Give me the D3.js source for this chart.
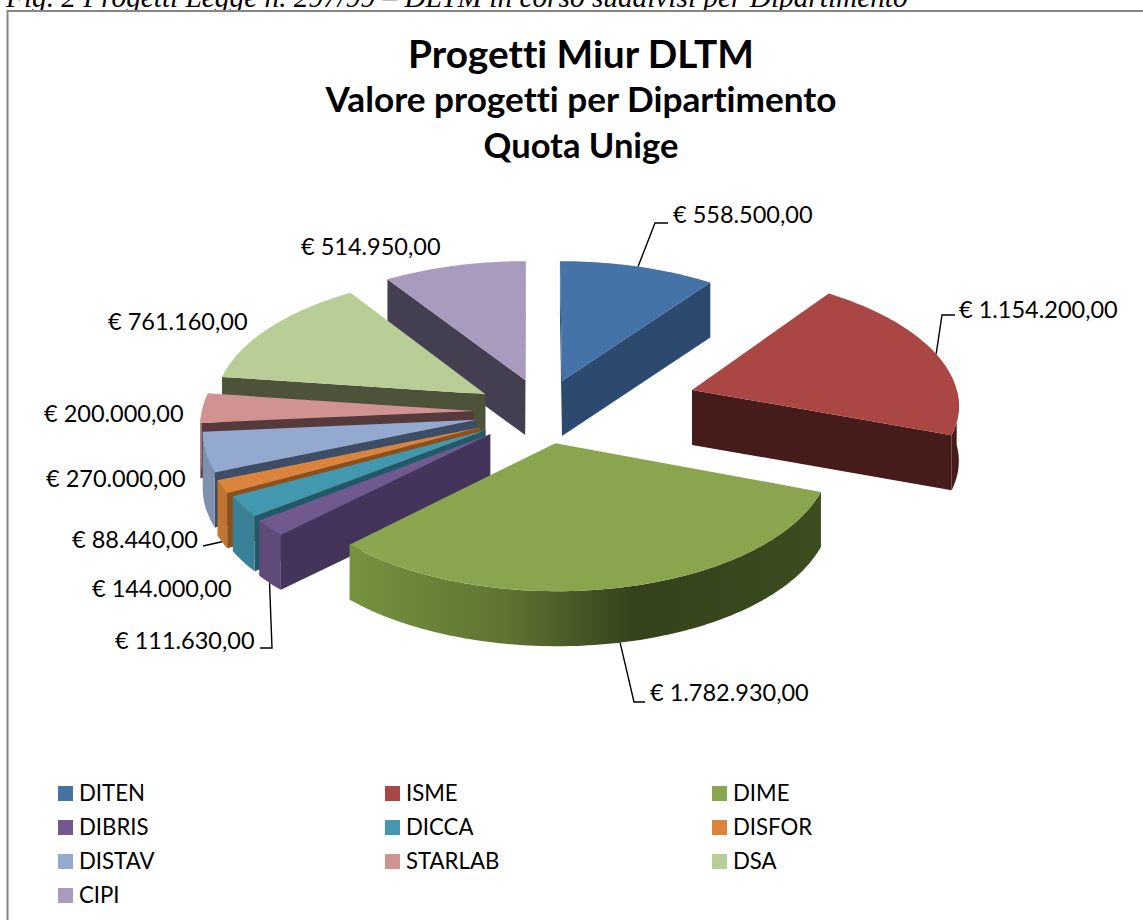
<!DOCTYPE html>
<html>
<head>
<meta charset="utf-8">
<script src="https://cdn.jsdelivr.net/npm/d3@7"></script>
<style>
  html, body { margin: 0; background: #fff; overflow: hidden; }
  svg { display: block; }
  text { font-family: Lato, sans-serif; fill: #000; font-variant-ligatures: none; }
</style>
</head>
<body>
<script>
const categories = ['DITEN', 'ISME', 'DIME', 'DIBRIS', 'DICCA', 'DISFOR', 'DISTAV', 'STARLAB', 'DSA', 'CIPI'];
const values = [558500, 1154200, 1782930, 111630, 144000, 88440, 270000, 200000, 761160, 514950];

const topColors = ['#4572a7', '#aa4643', '#89a54e', '#71588f', '#4198af', '#db843d', '#93a9cf', '#d19392', '#b9cd96', '#a99bbd'];
const wallColors = ['#2c4a70', '#461c1a', '#3a4a20', '#44335a', '#215968', '#8d4f1d', '#3d4d66', '#56393a', '#4d533a', '#443f50'];
const rimColors = ['#2c4a70', '#461c1a', '#3a4a20', '#5f4a79', '#3a8197', '#c07530', '#7e90b0', '#b08080', '#8fa070', '#443f50'];

// how far each slice is pulled out of the pie, on the ground plane, and its radius there
const pull = [[27.5, -61], [159, -42], [20, 67], [-44, 49], [-49, 41], [-54, 35], [-58, 20], [-61, 2], [-50, -33], [-10, -63]];
const radii = [277, 268, 269, 270, 270, 271, 271, 272, 272, 275];

// label box left / vertical middle, and the elbow of the leader if it has one
const labelPos = [[673, 215], [959, 310], [650, 693], [115, 641], [92, 589], [72, 540], [46, 479], [44, 414], [108, 322], [301, 247]];
const elbows = [[[655, 223], [668, 223]], [[942, 315], [955, 315]], [[634, 702], [645, 702]], [[272, 648], [260, 648]], null, [[203, 546], [203, 546]], null, null, null, null];

const width = 1143;
const height = 920;

const cx = 535;
const cy = 410;
const tilt = 0.485;
const persp = 0.0003;
const depth = 55;

const svg = d3.select('body').append('svg')
  .attr('width', width)
  .attr('height', height);

svg.append('text')
  .attr('x', 6)
  .attr('y', 7)
  .style('font-family', '"Liberation Serif", serif')
  .style('font-style', 'italic')
  .style('font-size', '29.3px')
  .text('Fig. 2 Progetti Legge n. 297/99 – DLTM in corso suddivisi per Dipartimento');

svg.append('rect')
  .attr('x', 7.5)
  .attr('y', 11)
  .attr('width', 1160)
  .attr('height', 940)
  .attr('fill', '#fff')
  .attr('stroke', '#868686')
  .attr('stroke-width', 2);

const titles = [['Progetti Miur DLTM', 38.8, 68], ['Valore progetti per Dipartimento', 35.2, 112], ['Quota Unige', 34.5, 158]];
svg.selectAll('.title')
  .data(titles)
  .enter()
  .append('text')
  .attr('class', 'title')
  .attr('x', 581)
  .attr('y', d => d[2])
  .attr('text-anchor', 'middle')
  .style('font-weight', 700)
  .style('font-size', d => `${d[1]}px`)
  .text(d => d[0]);

const pie = d3.pie().sort(null).value(d => d)(values);

const format = d3.formatLocale({ decimal: ',', thousands: '.', grouping: [3], currency: ['€ ', ''] }).format('$,.2f');

// ground plane to screen: y grows toward the viewer, angle 0 is at the back
function project (gx, gy, h) {
  const s = 1 / (1 - persp * gy);
  return [cx + gx * s, cy + tilt * gy * s + h];
}

function rimPoint (i, a, h) {
  return project(pull[i][0] + radii[i] * Math.sin(a), pull[i][1] - radii[i] * Math.cos(a), h);
}

const line = d3.line();

function arcPoints (i, a0, a1, h) {
  const n = Math.max(2, Math.ceil((a1 - a0) / 0.02));
  return d3.range(n + 1).map(k => rimPoint(i, a0 + (a1 - a0) * k / n, h));
}

const defs = svg.append('defs');
const dimeGradient = defs.append('linearGradient')
  .attr('id', 'dimeRim')
  .attr('gradientUnits', 'userSpaceOnUse')
  .attr('x1', 350)
  .attr('x2', 825)
  .attr('y1', 0)
  .attr('y2', 0);
[[0, '#76933f'], [0.33, '#5f7433'], [0.6, '#34421b'], [1, '#3c4d20']].forEach(d => {
  dimeGradient.append('stop').attr('offset', d[0]).attr('stop-color', d[1]);
});

const order = d3.range(pie.length).sort((a, b) => pull[a][1] - pull[b][1]);
const slices = svg.append('g').attr('class', 'slices');

order.forEach(i => {
  const d = pie[i];
  const g = slices.append('g');
  const apexTop = project(pull[i][0], pull[i][1], 0);
  const apexBottom = project(pull[i][0], pull[i][1], depth);

  [[d.startAngle, -1], [d.endAngle, 1]].forEach(w => {
    const top = rimPoint(i, w[0], 0);
    if ((top[0] - apexTop[0]) * w[1] > 0) {
      g.append('path')
        .attr('d', line([apexTop, top, rimPoint(i, w[0], depth), apexBottom]) + 'Z')
        .attr('fill', wallColors[i]);
    }
  });

  const a0 = Math.max(d.startAngle, Math.PI / 2);
  const a1 = Math.min(d.endAngle, Math.PI * 1.5);
  if (a1 > a0) {
    const pts = arcPoints(i, a0, a1, 0).concat(arcPoints(i, a0, a1, depth).reverse());
    g.append('path')
      .attr('d', line(pts) + 'Z')
      .attr('fill', categories[i] === 'DIME' ? 'url(#dimeRim)' : rimColors[i]);
  }

  g.append('path')
    .attr('d', line([apexTop].concat(arcPoints(i, d.startAngle, d.endAngle, 0))) + 'Z')
    .attr('fill', topColors[i]);
});

// leaders, only where the label sits away from its slice
const leaders = svg.append('g').attr('class', 'leaders');
elbows.forEach((e, i) => {
  if (!e) return;
  const mid = (pie[i].startAngle + pie[i].endAngle) / 2;
  const facing = Math.cos(mid) < 0;
  leaders.append('path')
    .attr('d', line([rimPoint(i, mid, facing ? depth : 0)].concat(e)))
    .attr('fill', 'none')
    .attr('stroke', '#000')
    .attr('stroke-width', 1.4);
});

svg.append('g').attr('class', 'labels')
  .selectAll('text')
  .data(values)
  .enter()
  .append('text')
  .attr('x', (d, i) => labelPos[i][0])
  .attr('y', (d, i) => labelPos[i][1])
  .attr('dy', '.35em')
  .style('font-size', '23.5px')
  .text(d => format(d));

const legendX = d3.scalePoint().domain([0, 1, 2]).range([58, 712]);
const legendY = d3.scalePoint().domain([0, 1, 2, 3]).range([793, 895]);

const legend = svg.append('g').attr('class', 'legend')
  .selectAll('g')
  .data(categories)
  .enter()
  .append('g')
  .attr('transform', (d, i) => `translate(${legendX(i % 3)},${legendY(Math.floor(i / 3))})`);

legend.append('rect')
  .attr('y', -7)
  .attr('width', 15)
  .attr('height', 15)
  .attr('fill', (d, i) => topColors[i]);

legend.append('text')
  .attr('x', 21)
  .attr('dy', '.35em')
  .style('font-size', '22.2px')
  .text(d => d);
</script>
</body>
</html>
